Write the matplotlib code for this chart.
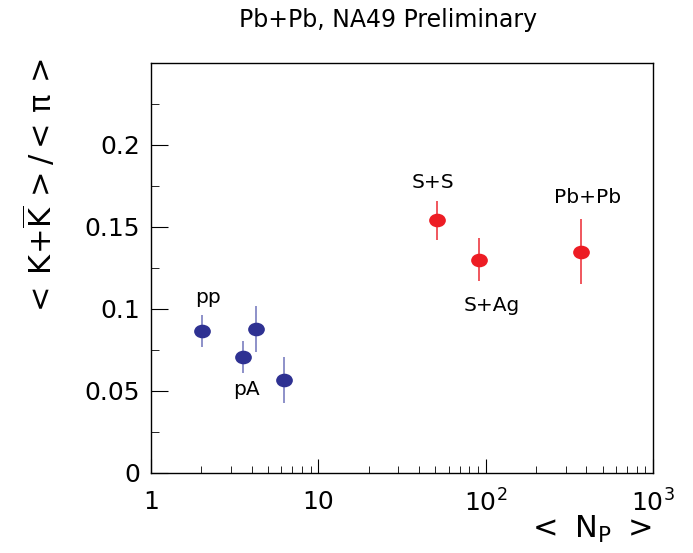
import numpy as np
import matplotlib
matplotlib.use('Agg')
import matplotlib.pyplot as plt
from matplotlib.path import Path
from matplotlib.ticker import FixedLocator, LogLocator, NullFormatter

plt.rcParams['mathtext.fontset'] = 'dejavusans'

# light systems (blue)
x_light = [2.01, 3.53, 4.22, 6.24]
y_light = [0.0866, 0.0707, 0.0876, 0.0567]
e_light = [0.010, 0.0098, 0.014, 0.014]

# heavy systems (red)
x_heavy = [51.4, 90.9, 373.0]
y_heavy = [0.154, 0.130, 0.135]
e_heavy = [0.012, 0.013, 0.020]

labels = ['pp', 'pA', 'S+S', 'S+Ag', 'Pb+Pb']
label_x = [2.19, 3.70, 48.5, 109.0, 404.0]
label_y = [0.1067, 0.0512, 0.1774, 0.102, 0.168]

xtick_vals = [1, 10, 100, 1000]
xtick_text = ['1', '10', r'$\mathregular{10^2}$', r'$\mathregular{10^3}$']
ytick_vals = [0, 0.05, 0.1, 0.15, 0.2]
ytick_text = ['0', '0.05', '0.1', '0.15', '0.2']

# ellipse marker, a bit wider than tall
circ = Path.unit_circle()
ell = Path(circ.vertices * [1.25, 1.0], circ.codes)

fig = plt.figure(figsize=(6.93, 5.53), dpi=100)
ax = fig.add_axes([0.2179, 0.1447, 0.7244, 0.7414])

ax.errorbar(x_light, y_light, yerr=e_light, fmt='none', ecolor='#7a7ec0', elinewidth=1.2)
ax.plot(x_light, y_light, ls='none', marker=ell, ms=11, color='#2e3192', mec='#2e3192')
ax.errorbar(x_heavy, y_heavy, yerr=e_heavy, fmt='none', ecolor='#ee3a42', elinewidth=1.2)
ax.plot(x_heavy, y_heavy, ls='none', marker=ell, ms=11, color='#ed1c24', mec='#ed1c24')

for t, lx, ly in zip(labels, label_x, label_y):
    ax.text(lx, ly, t, ha='center', va='center', fontsize=14.5)

ax.set_xscale('log')
ax.set_xlim(1, 1000)
ax.set_ylim(0, 0.25)

ax.xaxis.set_major_locator(FixedLocator(xtick_vals))
ax.set_xticklabels(xtick_text, fontsize=18)
ax.xaxis.set_minor_locator(LogLocator(base=10, subs=np.arange(2, 10)))
ax.xaxis.set_minor_formatter(NullFormatter())
ax.yaxis.set_major_locator(FixedLocator(ytick_vals))
ax.set_yticklabels(ytick_text, fontsize=18)
ax.yaxis.set_minor_locator(FixedLocator(np.arange(0.025, 0.25, 0.05)))

ax.tick_params(which='both', direction='in', top=False, right=False)
ax.tick_params(axis='x', which='major', length=10, pad=12)
ax.tick_params(axis='x', which='minor', length=5)
ax.tick_params(axis='y', which='major', length=12, pad=8)
ax.tick_params(axis='y', which='minor', length=6)
for s in ax.spines.values():
    s.set_linewidth(1.0)

fig.text(0.56, 0.963, 'Pb+Pb, NA49 Preliminary', ha='center', va='center', fontsize=17)
fig.text(0.057, 0.66, r'$\mathregular{<\,K\!+\!\overline{K}\,>/<\,\pi\,>}$', rotation=90,
         ha='center', va='center', fontsize=22)
fig.text(0.85, 0.042, r'$\mathregular{<\ N_{P}\ >}$', ha='center', va='center', fontsize=22)

fig.savefig('out.png', dpi=100)
